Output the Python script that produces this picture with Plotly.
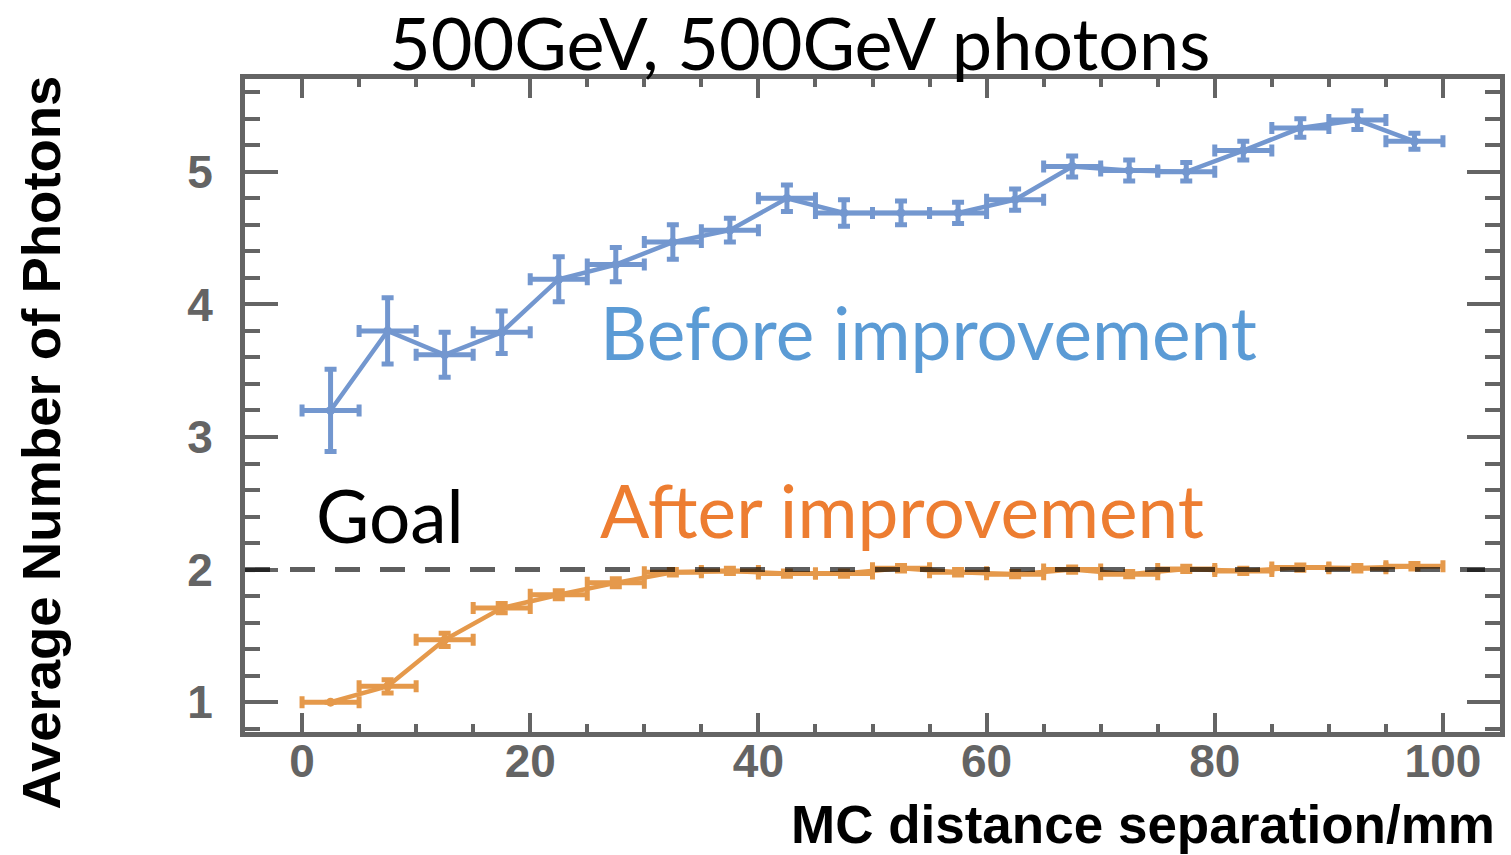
import plotly.graph_objects as go

# ---------------- data ----------------
separation_mm = [2.5, 7.5, 12.5, 17.5, 22.5, 27.5, 32.5, 37.5, 42.5, 47.5,
                 52.5, 57.5, 62.5, 67.5, 72.5, 77.5, 82.5, 87.5, 92.5, 97.5]
bin_half_width = [2.5] * 20

before_mean = [3.20, 3.80, 3.62, 3.79, 4.19, 4.30, 4.47, 4.56, 4.80, 4.69,
               4.69, 4.69, 4.79, 5.04, 5.01, 5.00, 5.16, 5.33, 5.39, 5.23]
before_err = [0.31, 0.25, 0.17, 0.16, 0.17, 0.13, 0.13, 0.09, 0.10, 0.10,
              0.09, 0.08, 0.08, 0.08, 0.08, 0.07, 0.07, 0.07, 0.07, 0.06]

after_mean = [1.00, 1.12, 1.47, 1.71, 1.81, 1.90, 1.98, 1.99, 1.97, 1.97,
              2.01, 1.98, 1.965, 2.00, 1.965, 2.005, 1.99, 2.015, 2.01, 2.025]
after_err = [0.0, 0.05, 0.05, 0.035, 0.03, 0.03, 0.02, 0.02, 0.02, 0.02,
             0.02, 0.02, 0.02, 0.02, 0.02, 0.02, 0.02, 0.02, 0.02, 0.02]

goal_value = 2
x_ticks = [0, 20, 40, 60, 80, 100]
y_ticks = [1, 2, 3, 4, 5]

title_text = "500GeV, 500GeV photons"
x_title = "MC distance separation/mm"
y_title = "Average Number of Photons"

BLUE = "#7397cf"
ORANGE = "#e5994b"
FRAME = "#646464"

fig = go.Figure()


def add_series(y, err, color):
    fig.add_trace(go.Scatter(
        x=separation_mm, y=y,
        mode="lines+markers",
        line=dict(color=color, width=4.5),
        marker=dict(color=color, size=9),
        error_y=dict(type="data", array=err, visible=True, color=color,
                     thickness=5, width=6),
        error_x=dict(type="data", array=bin_half_width, visible=True,
                     color=color, thickness=5, width=6),
        showlegend=False,
        hoverinfo="x+y",
    ))


add_series(before_mean, before_err, BLUE)
add_series(after_mean, after_err, ORANGE)

# goal line
fig.add_shape(type="line", xref="paper", x0=0, x1=1, yref="y",
              y0=goal_value, y1=goal_value, layer="above",
              line=dict(color="rgba(0,0,0,0.63)", width=5, dash="25px,20px"))

label_font = dict(family="Lato", size=73)
fig.add_annotation(text="Before improvement", x=54.9, y=3.795, xref="x", yref="y",
                   showarrow=False, xanchor="center", yanchor="middle",
                   font=dict(label_font, color="#5b9bd5"))
fig.add_annotation(text="After improvement", x=52.6, y=2.45, xref="x", yref="y",
                   showarrow=False, xanchor="center", yanchor="middle",
                   font=dict(label_font, color="#ed7d31"))
fig.add_annotation(text="Goal", x=7.75, y=2.415, xref="x", yref="y",
                   showarrow=False, xanchor="center", yanchor="middle",
                   font=dict(label_font, color="black"))
fig.add_annotation(text=title_text, x=(802 - 245) / 1260, y=1.057,
                   xref="paper", yref="paper", showarrow=False,
                   xanchor="center", yanchor="middle",
                   font=dict(family="Lato", size=72, color="black"))

axis_title_font = dict(family="Liberation Sans", size=53, color="black", weight="bold")
fig.add_annotation(text=x_title, x=0.998, y=-0.141, xref="paper", yref="paper",
                   showarrow=False, xanchor="right", yanchor="middle",
                   font=axis_title_font)
fig.add_annotation(text=y_title, x=-0.162, y=0.443, xref="paper", yref="paper",
                   showarrow=False, xanchor="center", yanchor="middle",
                   textangle=-90,
                   font=dict(axis_title_font, size=54.5))

tick_font = dict(family="Liberation Sans", size=46, color=FRAME, weight="bold")

fig.update_xaxes(
    range=[-5, 105], tickvals=x_ticks, ticktext=[str(v) for v in x_ticks],
    showline=True, linewidth=5, linecolor=FRAME, mirror="allticks",
    ticks="inside", ticklen=19, tickwidth=4, tickcolor=FRAME,
    minor=dict(dtick=5, tick0=0, ticks="inside", ticklen=8, tickwidth=4,
               tickcolor=FRAME),
    showgrid=False, zeroline=False, tickfont=tick_font,
    ticklabelstandoff=-15,
)
fig.update_yaxes(
    range=[0.775, 5.7], tickvals=y_ticks, ticktext=[str(v) for v in y_ticks],
    showline=True, linewidth=5, linecolor=FRAME, mirror="allticks",
    ticks="inside", ticklen=33, tickwidth=4, tickcolor=FRAME,
    minor=dict(dtick=0.2, tick0=0, ticks="inside", ticklen=15, tickwidth=4,
               tickcolor=FRAME),
    showgrid=False, zeroline=False, tickfont=tick_font,
    ticklabelstandoff=18,
)

fig.update_layout(
    width=1511, height=855,
    margin=dict(l=245, r=6, t=79, b=123),
    paper_bgcolor="white", plot_bgcolor="white",
)

fig.write_html("out.html")
